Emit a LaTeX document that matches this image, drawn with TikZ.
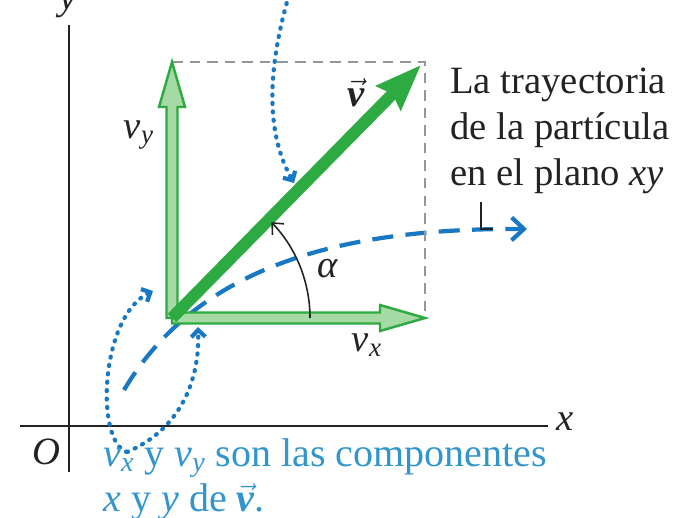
\documentclass[tikz,border=0pt]{standalone}
\usepackage{amsmath}
\usepackage{fontspec}
\setmainfont{Liberation Serif}
\usetikzlibrary{arrows.meta,calc}

\definecolor{vgreen}{RGB}{45,170,65}
\definecolor{compfill}{RGB}{165,218,165}
\definecolor{trajblue}{RGB}{25,120,195}
\definecolor{noteblue}{RGB}{50,150,205}
\definecolor{boxgray}{RGB}{150,150,150}
\definecolor{textdark}{RGB}{35,35,35}

\newcommand{\vvec}{\ensuremath{\vec{\textbf{\textit{v}}}}}
\newcommand{\vcomp}[1]{\ensuremath{\textit{v}_{\textit{#1}}}}

\begin{document}
\begin{tikzpicture}[x=0.02cm, y=0.02cm,
    every node/.style={inner sep=0pt, font=\fontsize{22}{26}\selectfont},
    axis/.style={draw=textdark, line width=1.2pt},
    comp/.style={draw=vgreen, fill=compfill, line width=1.4pt, line join=miter},
    dotblue/.style={trajblue, line width=2.4pt, line cap=round, dash pattern=on 0.6pt off 4.2pt},
    tiny tip/.style={-{Straight Barb[length=4pt,width=8pt]}}]

            \useasboundingbox (0,0) rectangle (688,517);

            % axes
            \coordinate (O) at (69,91);
            \coordinate (ytop) at (69,492);
            \coordinate (ybot) at (69,45);
            \coordinate (xleft) at (20,91);
            \coordinate (xright) at (548,91);
            \draw[axis] (ybot) -- (ytop);
            \draw[axis] (xleft) -- (xright);
            \node[textdark, anchor=base] (ylab) at (68,507) {\textit{y}};
            \node[textdark] (xlab) at (565,95) {\textit{x}};
            \node[textdark] (olab) at (46,65) {\textit{O}};

            % tail and tips of the vectors
            \coordinate (P) at (172,199);
            \coordinate (Ty) at (172,455);
            \coordinate (Tx) at (425,199);
            \coordinate (C) at (425,455);
            \coordinate (Tv) at (421,452);

            % path of the particle
            \coordinate (s) at (124,127);
            \coordinate (e) at (527,288);
            \draw[trajblue, line width=2.4pt, dash pattern=on 12pt off 7pt,
                  -{Straight Barb[length=7pt,width=13pt]}]
                (s) .. controls (200,255) and (350,289) .. (e);

            % dashed box
            \draw[boxgray, line width=0.9pt, dash pattern=on 6pt off 4pt] (Ty) -- (C) -- (Tx);

            % components
            \draw[comp] (P) ++(-5.5,0) -- ++(0,211) -- ++(-7.5,0) -- (Ty)
                -- ++(13,-45) -- ++(-7.5,0) -- ++(0,-211) -- cycle;
            \draw[comp] (P) ++(0,5.5) -- ++(208,0) -- ++(0,7.5) -- (Tx)
                -- ++(-45,-13) -- ++(0,7.5) -- ++(-208,0) -- cycle;

            % the velocity
            \draw[vgreen, line width=6.8pt, -{Stealth[length=26pt,width=19pt,inset=3pt]}] (P) -- (Tv);

            % angle
            \draw[textdark, line width=0.9pt, -{Straight Barb[length=5pt,width=9pt]}]
                ($(P)+(138,0)$) arc[start angle=0, end angle=44, radius=138];
            \node[textdark] (alpha) at (328,248) {\textit{α}};

            % labels of the vectors
            \node[textdark] (vlab) at (356,424) {\vvec};
            \node[textdark] (vylab) at (139,382) {\vcomp{y}};
            \node[textdark] (vxlab) at (367,172) {\vcomp{x}};

            % note on the path
            \node[textdark, anchor=north west, align=left] (traj) at (450,449)
                {La trayectoria\\de la partícula\\en el plano \textit{xy}};
            \coordinate (Lt) at (481,315);
            \coordinate (Lc) at (481,288);
            \coordinate (Le) at (493,288);
            \draw[textdark, line width=1pt] (Lt) -- (Lc) -- (Le);

            % dotted pointer to the velocity
            \coordinate (d0) at (289,522);
            \coordinate (d1) at (294,334);
            \draw[dotblue, tiny tip] (d0) .. controls (265,440) and (268,380) .. (d1);

            % note on the components
            \coordinate (src) at (127,65);
            \coordinate (py) at (153,226);
            \coordinate (px) at (198,190);
            \draw[dotblue, tiny tip] (src) .. controls (95,75) and (100,200) .. (py);
            \draw[dotblue, tiny tip] (src) .. controls (175,85) and (200,130) .. (px);
            \node[noteblue, anchor=north west, align=left, font=\fontsize{22.8}{26}\selectfont] (comps) at (103,79)
                {\vcomp{x} y \vcomp{y} son las componentes\\\textit{x} y \textit{y} de \vvec.};

            \end{tikzpicture}
\end{document}
